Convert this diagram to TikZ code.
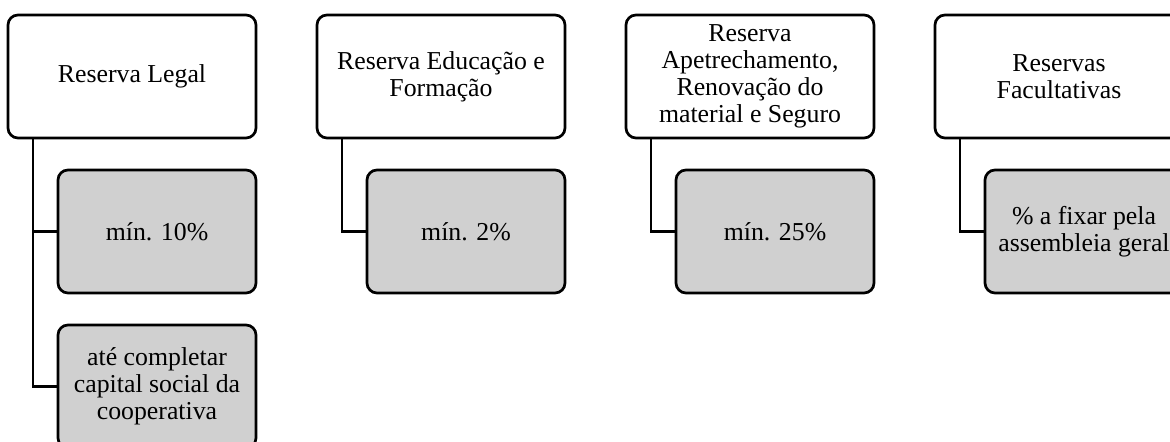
\documentclass[tikz,border=0pt]{standalone}
\usepackage{fontspec}
\setmainfont{Liberation Serif}
\usetikzlibrary{positioning}
\definecolor{quotagray}{RGB}{208,208,208}
\tikzstyle{reserva} = [rectangle, rounded corners=5pt, minimum width=124pt, minimum height=61.5pt, text centered, align=center, draw=black, line width=1.35pt, outer sep=0pt, fill=white, font=\fontsize{12.9}{13.5}\selectfont]
\tikzstyle{quota} = [rectangle, rounded corners=5pt, minimum width=99pt, minimum height=61.5pt, text centered, align=center, draw=black, line width=1.35pt, outer sep=0pt, fill=quotagray, font=\fontsize{12.9}{13.5}\selectfont]
\tikzstyle{link} = [line width=1.35pt]

\begin{document}
\begin{tikzpicture}[node distance=16pt]
\useasboundingbox (0,0) rectangle (585pt,-221pt);
\node (r1) [reserva, anchor=north west] at (4pt,-7.5pt) {Reserva Legal};
\node (r2) [reserva, right=30.5pt of r1] {Reserva Educação e\\Formação};
\node (r3) [reserva, right=30.5pt of r2] {Reserva\\Apetrechamento,\\Renovação do\\material e Seguro};
\node (r4) [reserva, right=30.5pt of r3] {Reservas\\Facultativas};
\node (q1) [quota, below=of r1.south east, anchor=north east] {mín. 10\%};
\node (q2) [quota, below=of q1] {até completar\\capital social da\\cooperativa};
\node (q3) [quota, below=of r2.south east, anchor=north east] {mín. 2\%};
\node (q4) [quota, below=of r3.south east, anchor=north east] {mín. 25\%};
\node (q5) [quota, below=of r4.south east, anchor=north east] {\% a fixar pela\\assembleia geral};
\draw [link] ([xshift=12.5pt]r1.south west) |- (q1.west);
\draw [link] ([xshift=12.5pt]r1.south west) |- (q2.west);
\draw [link] ([xshift=12.5pt]r2.south west) |- (q3.west);
\draw [link] ([xshift=12.5pt]r3.south west) |- (q4.west);
\draw [link] ([xshift=12.5pt]r4.south west) |- (q5.west);
\end{tikzpicture}
\end{document}
